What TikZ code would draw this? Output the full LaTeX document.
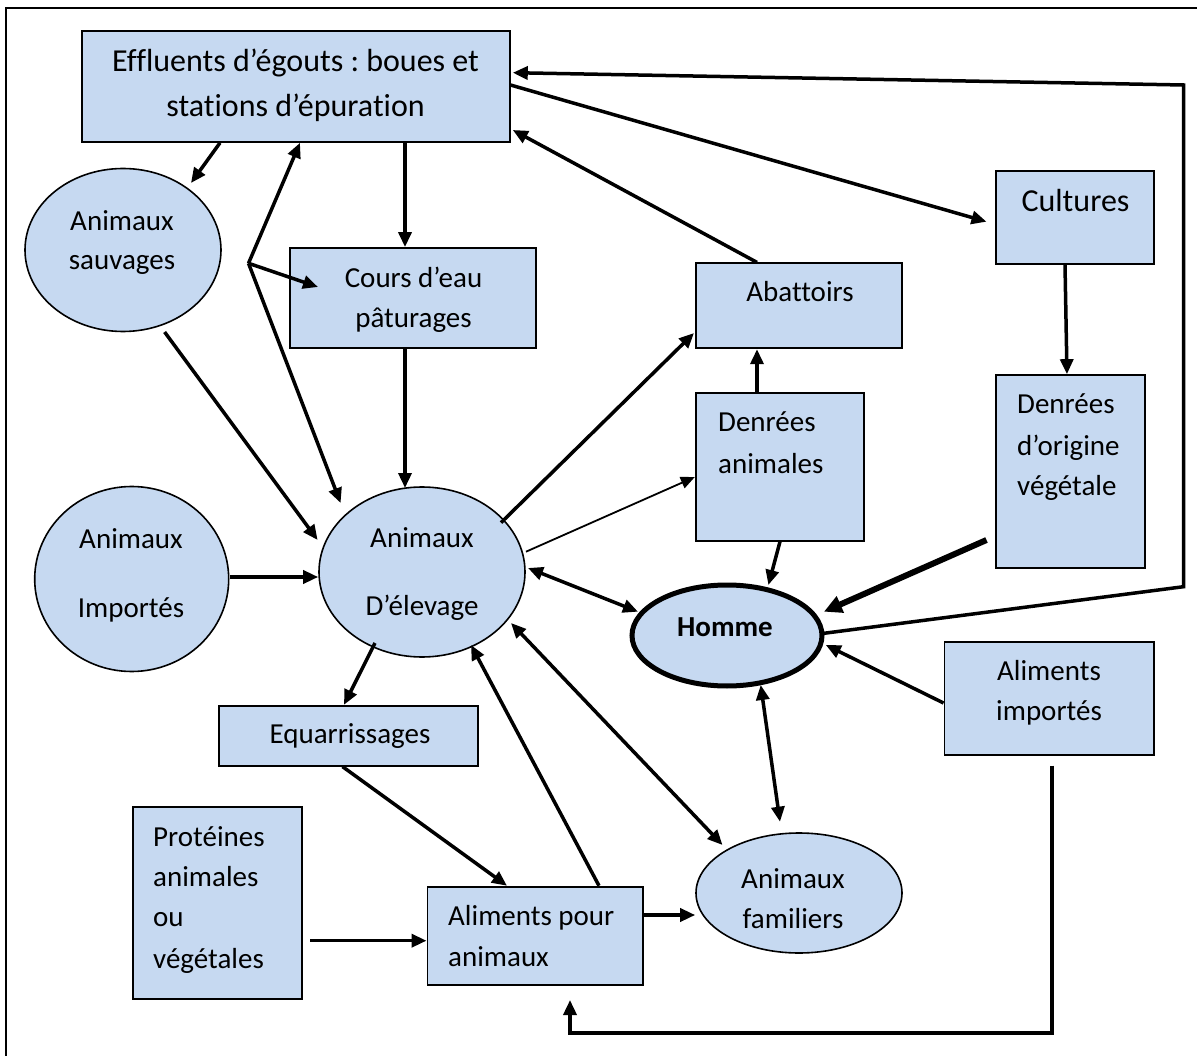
\documentclass[tikz,border=0pt]{standalone}
\usepackage{fontspec}
\setmainfont[Ligatures=NoCommon]{Carlito}
\frenchspacing
\usetikzlibrary{arrows.meta,shapes.geometric}
\definecolor{boxblue}{HTML}{C6D9F1}
\tikzset{
  box/.style={draw, fill=boxblue, line width=1.8pt, inner sep=0pt, rectangle},
  oval/.style={draw, fill=boxblue, line width=1.6pt, inner sep=0pt, ellipse},
  txt/.style={inner sep=0pt, anchor=base, font=\fontsize{29}{33}\selectfont},
  txtl/.style={inner sep=0pt, anchor=base west, font=\fontsize{29}{33}\selectfont},
  big/.style={font=\fontsize{32}{36}\selectfont},
  tip/.style={-{Triangle[length=15pt,width=13pt]}},
  arr/.style={line width=3.5pt, tip},
  darr/.style={line width=3.5pt, {Triangle[length=15pt,width=13pt]}-{Triangle[length=15pt,width=13pt]}},
  thin/.style={line width=1.8pt, -{Triangle[length=14pt,width=12pt]}},
  heavy/.style={line width=6pt, -{Triangle[length=18pt,width=17pt]}},
}
\begin{document}
\begin{tikzpicture}[x=1pt,y=-1pt]
\useasboundingbox (0,0) rectangle (1197,1056);
% frame
\draw[line width=2pt] (5.7,1056) -- (5.7,8.3) -- (1197,8.3);

% shapes
\node[box, minimum width=428pt, minimum height=111pt] (eff) at (295.6,86.4) {};
\node[oval, minimum width=196pt, minimum height=163pt] (sauv) at (123,250) {};
\node[box, minimum width=246pt, minimum height=100pt] (cours) at (413,298) {};
\node[box, minimum width=206pt, minimum height=85pt] (abat) at (799,305.8) {};
\node[box, minimum width=158pt, minimum height=93pt] (cult) at (1075,217.5) {};
\node[box, minimum width=168.3pt, minimum height=147.4pt] (denA) at (779.9,467) {};
\node[box, minimum width=148.6pt, minimum height=193.3pt] (denV) at (1070.3,471.7) {};
\node[oval, minimum width=194pt, minimum height=185pt] (imp) at (131.7,579) {};
\node[oval, minimum width=206pt, minimum height=170pt] (elev) at (422,572) {};
\node[oval, line width=5pt, minimum width=190pt, minimum height=101pt] (homme) at (727,635.5) {};
\node[box, minimum width=209.6pt, minimum height=113.3pt] (alimI) at (1049.2,698.3) {};
\node[box, minimum width=259pt, minimum height=60pt] (equa) at (348.5,735.7) {};
\node[box, minimum width=168.8pt, minimum height=192.3pt] (prot) at (217.2,902.8) {};
\node[box, minimum width=215.5pt, minimum height=98.3pt] (alimA) at (535.2,935.8) {};
\node[oval, minimum width=206pt, minimum height=120pt] (fam) at (799,893) {};

% texts
\node[txt, big] (effa) at (295.6,72) {Effluents d’égouts : boues et};
\node[txt, big] (effb) at (295.6,117) {stations d’épuration};
\node[txt] (sauva) at (122,230.7) {Animaux};
\node[txt] (sauvb) at (122,270) {sauvages};
\node[txt] (coursa) at (413.5,288) {Cours d’eau};
\node[txt] (coursb) at (413.5,328) {pâturages};
\node[txt] (abata) at (800,301.7) {Abattoirs};
\node[txt, big] (culta) at (1075.5,211.7) {Cultures};
\node[txtl] (denAa) at (718,431.7) {Denrées};
\node[txtl] (denAb) at (718,473) {animales};
\node[txtl] (denVa) at (1017,413.3) {Denrées};
\node[txtl] (denVb) at (1017,455) {d’origine};
\node[txtl] (denVc) at (1017,495) {végétale};
\node[txt] (impa) at (131,548) {Animaux};
\node[txt] (impb) at (131,617) {Importés};
\node[txt] (eleva) at (422,547) {Animaux};
\node[txt] (elevb) at (422,615) {D’élevage};
\node[txt, font=\fontsize{29}{33}\selectfont\bfseries] (hommea) at (725,636.7) {Homme};
\node[txt] (alimIa) at (1049,680) {Aliments};
\node[txt] (alimIb) at (1049,720) {importés};
\node[txt] (equaa) at (350,743) {Equarrissages};
\node[txtl] (prota) at (153,846.7) {Protéines};
\node[txtl] (protb) at (153,886.7) {animales};
\node[txtl] (protc) at (153,926.7) {ou};
\node[txtl] (protd) at (153,968) {végétales};
\node[txtl] (alimAa) at (448,925) {Aliments pour};
\node[txtl] (alimAb) at (448,966.7) {animaux};
\node[txt] (fama) at (793,888) {Animaux};
\node[txt] (famb) at (793,928) {familiers};

% free ends / junctions
\coordinate (j) at (248.5,263.3);
\coordinate (sauvIn) at (191,183);
\coordinate (coursIn) at (318,287);
\coordinate (elevIn1) at (340.6,503);
\coordinate (elevIn2) at (317.6,540);
\coordinate (abatIn) at (694,333);
\coordinate (corner1) at (1183.6,586.7);
\coordinate (corner2) at (1183.6,85);
\coordinate (effIn) at (512.8,72.7);
\coordinate (effIn2) at (512.8,130);
\coordinate (alimIout) at (1052,765.7);
\coordinate (corner3) at (1052,1033);
\coordinate (corner4) at (570,1033);
\coordinate (alimAin) at (570,1000);
\coordinate (denVout) at (986.5,540);
\coordinate (culIn) at (986.5,221.7);
\coordinate (protOut) at (310,940.7);

% connectors
\draw[arr] (eff.south -| 220,0) -- (sauvIn);
\draw[arr] (j) -- (eff.south -| 300,0);
\draw[arr] (j) -- (coursIn);
\draw[arr] (j) -- (elevIn1);
\draw[arr] (eff.south -| 405,0) -- (cours.north -| 405,0);
\draw[arr] (164.6,332) -- (elevIn2);
\draw[arr] (cours.south -| 405,0) -- (405,488);
\draw[arr] (imp.east |- 0,577) -- (elev.west |- 0,577);
\draw[arr] (501,522.7) -- (abatIn);
\draw[thin] (526,551.7) -- (denA.west |- 0,477);
\draw[darr] (528,568) -- (638,611.7);
\draw[darr] (511,623) -- (722.5,845);
\draw[arr] (alimA.north -| 599,0) -- (471,645);
\draw[arr] (375,643) -- (equa.north -| 344,0);
\draw[arr] (equa.south -| 342.5,0) -- (alimA.north -| 507,0);
\draw[arr] (protOut) -- (alimA.west |- 0,940.7);
\draw[arr] (alimA.east |- 0,915) -- (fam.west |- 0,915);
\draw[line width=3.5pt, tip] (alimIout) -- (corner3) -- (corner4) -- (alimAin);
\draw[darr] (760.7,685) -- (780,821.7);
\draw[arr] (denA.north -| 757,0) -- (abat.south -| 757,0);
\draw[arr] (denA.south -| 780,0) -- (768.4,585);
\draw[heavy] (denVout) -- (823.9,611.7);
\draw[line width=3.5pt, tip] (823.9,633.3) -- (corner1) -- (corner2) -- (effIn);
\draw[arr] (alimI.west |- 0,703) -- (825.8,645);
\draw[arr] (eff.east |- 0,85) -- (culIn);
\draw[arr] (abat.north -| 757,0) -- (effIn2);
\draw[arr] (cult.south -| 1065,0) -- (denV.north -| 1067,0);
\end{tikzpicture}
\end{document}
